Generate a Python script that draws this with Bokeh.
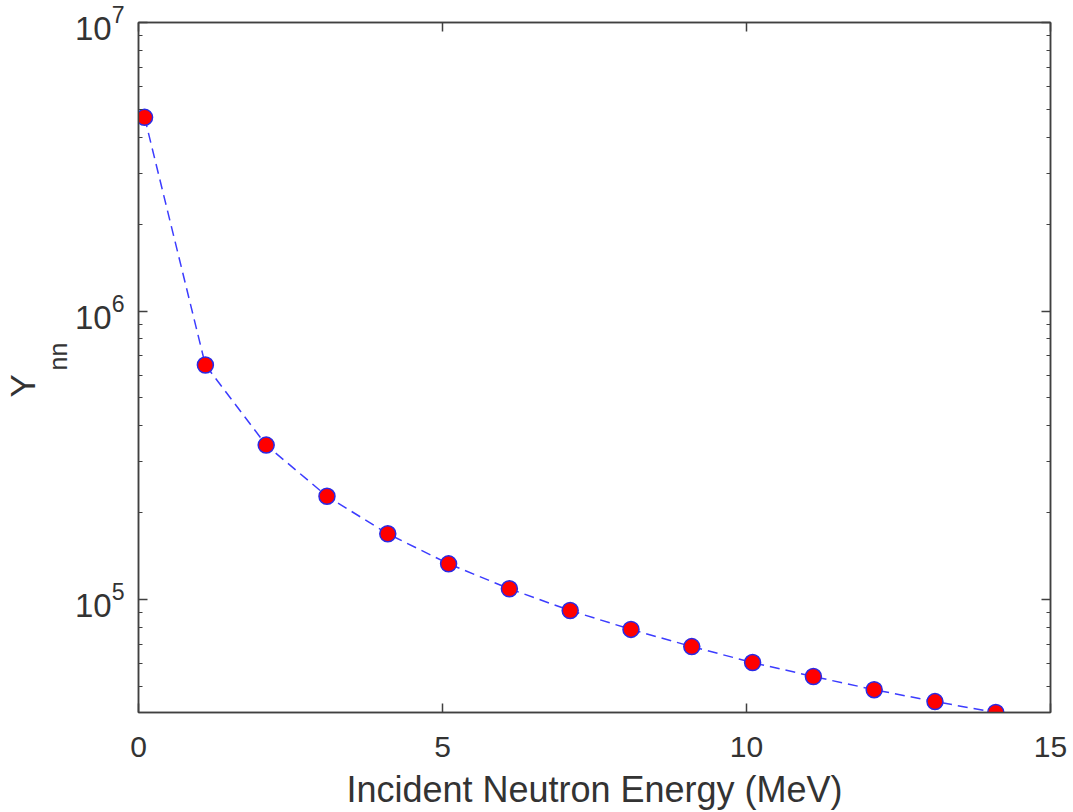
import numpy as np
from bokeh.plotting import figure
from bokeh.models import (Range1d, FixedTicker, LinearAxis, LogAxis, LogTickFormatter,
                          CustomJSTickFormatter, Title)
from bokeh.embed import file_html
from bokeh.resources import INLINE

# data
energy = [0.1, 1.1, 2.1, 3.1, 4.1, 5.1, 6.1, 7.1, 8.1, 9.1, 10.1, 11.1, 12.1, 13.1, 14.1]
ynn = [4.69e6, 6.5e5, 3.43e5, 2.28e5, 1.69e5, 1.33e5, 1.09e5, 9.16e4, 7.88e4,
       6.87e4, 6.05e4, 5.41e4, 4.87e4, 4.43e4, 4.06e4]
x_ticks = [0, 5, 10, 15]
y_ticks = [1e5, 1e6, 1e7]
y_minor = [k * 10.0**n for n in (4, 5, 6) for k in range(2, 10)]

AX = "#404040"
TXT = "#333333"
FONT = "Liberation Sans"

p = figure(width=1073, height=812, y_axis_type="log", output_backend="svg",
           toolbar_location=None, x_range=Range1d(0, 15), y_range=Range1d(4.06e4, 1e7),
           min_border_left=137, min_border_right=23, min_border_top=22, min_border_bottom=100)
p.grid.visible = False
p.outline_line_color = AX
p.outline_line_width = 1.5
p.background_fill_color = "white"
p.border_fill_color = "white"

p.line(energy, ynn, line_color="#3c3cff", line_width=1.5, line_dash="10 6")
p.scatter(energy, ynn, size=16, fill_color="#ff0000", line_color="#2a2ae6", line_width=1.5)

xt = FixedTicker(ticks=x_ticks)
yt = FixedTicker(ticks=y_ticks, minor_ticks=y_minor)

def style(ax, ticker, size="30px"):
    ax.ticker = ticker
    ax.axis_line_color = AX
    ax.axis_line_width = 1.5
    ax.major_tick_line_color = AX
    ax.minor_tick_line_color = AX
    ax.major_tick_line_width = 1.5
    ax.minor_tick_line_width = 1.2
    ax.major_tick_in = 9
    ax.major_tick_out = 0
    ax.minor_tick_in = 4
    ax.minor_tick_out = 0
    ax.major_label_text_font = FONT
    ax.major_label_text_font_size = size
    ax.major_label_text_color = TXT
    ax.major_label_text_font_style = "normal"

xa = p.xaxis[0]
style(xa, xt)
xa.major_label_standoff = 24
xa.major_label_text_line_height = 0.8
xa.axis_label = "Incident Neutron Energy (MeV)"
xa.axis_label_text_font = FONT
xa.axis_label_text_font_size = "36px"
xa.axis_label_text_font_style = "normal"
xa.axis_label_text_color = TXT
xa.axis_label_text_line_height = 0.8
xa.axis_label_standoff = 9

ya = p.yaxis[0]
style(ya, yt, "33px")
ya.formatter = LogTickFormatter()
ya.major_label_standoff = 14
ya.axis_label = None

blank = CustomJSTickFormatter(code="return ''")
top = LinearAxis()
style(top, FixedTicker(ticks=x_ticks))
top.formatter = blank
p.add_layout(top, "above")
right = LogAxis()
style(right, FixedTicker(ticks=y_ticks, minor_ticks=y_minor))
right.formatter = blank
p.add_layout(right, "right")

# y label Y_nn as two left-side titles (subscript placed separately)
p.add_layout(Title(text="nn", align="left", offset=342, standoff=0,
                   text_font=FONT, text_font_size="25px", text_font_style="normal",
                   text_color=TXT), "left")
p.add_layout(Title(text="Y", align="left", offset=315, standoff=0,
                   text_font=FONT, text_font_size="35px", text_font_style="normal",
                   text_color=TXT), "left")

open("out.html", "w").write(file_html(p, INLINE))
